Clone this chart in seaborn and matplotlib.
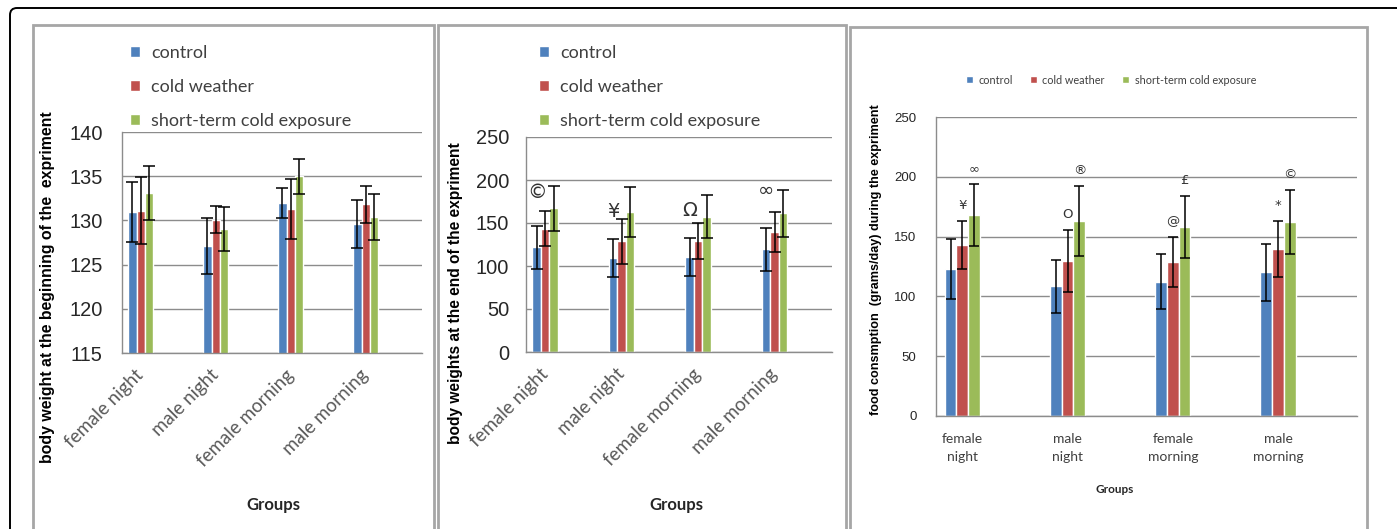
import numpy as np
import pandas as pd
import matplotlib
matplotlib.use("Agg")
import matplotlib.pyplot as plt
import seaborn as sns
from matplotlib.patches import FancyBboxPatch, Rectangle

# %% data
groups = ["female night", "male night", "female morning", "male morning"]
treatments = ["control", "cold weather", "short-term cold exposure"]
colors = ["#4F81BD", "#C0504D", "#9BBB59"]

start_control = [131.0, 127.1, 132.0, 129.6]
start_cold = [131.1, 130.1, 131.3, 131.8]
start_short = [133.1, 129.0, 135.0, 130.4]
start_control_err = [3.4, 3.2, 1.7, 2.7]
start_cold_err = [3.8, 1.5, 3.4, 2.1]
start_short_err = [3.1, 2.5, 2.0, 2.6]

end_control = [121.7, 109.0, 110.9, 119.4]
end_cold = [143.4, 128.7, 128.7, 139.5]
end_short = [166.9, 163.0, 157.3, 161.1]
end_control_err = [25, 22, 22, 25]
end_cold_err = [20, 26, 21, 23.6]
end_short_err = [26, 29, 25, 27]
end_marks = ["©", "¥", "Ω", "∞"]
end_mark_y = [186, 163, 165, 188]

food_control = [122.8, 108.5, 112.4, 120.0]
food_cold = [142.9, 129.5, 128.6, 140.0]
food_short = [168.0, 163.0, 158.2, 162.1]
food_control_err = [25, 22, 23, 24]
food_cold_err = [20, 26, 21, 23.4]
food_short_err = [26, 29, 26, 27]
food_marks_cold = ["¥", "O", "@", "*"]
food_marks_short = ["∞", "®", "£", "©"]

# excel chart had an empty category after each group
order = ["female night", "gap1", "male night", "gap2",
         "female morning", "gap3", "male morning", "gap4"]

sns.set_theme(style="white")
plt.rcParams['font.family'] = ['Lato', 'DejaVu Sans']

W, H = 1397, 529
fig = plt.figure(figsize=(W / 100, H / 100), dpi=100)
fig.patch.set_facecolor("white")

GRID = "#8c8c8c"
ARIAL = ["Liberation Sans", "DejaVu Sans"]


def make_frame(values, errors):
    rows = []
    for t, vals, errs in zip(treatments, values, errors):
        for g, v, e in zip(groups, vals, errs):
            rows.append({"group": g, "treatment": t, "value": v, "err": e})
    return pd.DataFrame(rows)


def draw_bars(ax, df, capsize):
    sns.barplot(data=df, x="group", y="value", hue="treatment", order=order,
                hue_order=treatments, palette=colors, width=0.67, saturation=1,
                errorbar=None, ax=ax, zorder=2)
    # error bars, matched to each drawn bar
    for cont, t in zip(ax.containers, treatments):
        for bar in cont:
            h = bar.get_height()
            if not np.isfinite(h) or h == 0:
                continue
            xc = bar.get_x() + bar.get_width() / 2
            g = order[int(round(xc))]
            e = df[(df.treatment == t) & (df.group == g)]["err"].iloc[0]
            ax.errorbar(xc, h, yerr=e, color="black", lw=1.1, capsize=capsize,
                        capthick=1.1, zorder=3)
    ax.set_xlim(-0.5, 7.5)
    ax.grid(axis="y", color=GRID, lw=1, zorder=0)
    ax.set_axisbelow(True)
    for s in ["top", "right"]:
        ax.spines[s].set_visible(False)
    for s in ["left", "bottom"]:
        ax.spines[s].set_color(GRID)
        ax.spines[s].set_linewidth(1)
    ax.set_facecolor("none")
    ax.set_xticks([0, 2, 4, 6])
    ax.set_xticks(np.arange(-0.5, 8, 1), minor=True)
    ax.tick_params(axis="x", which="major", length=0)
    ax.tick_params(axis="x", which="minor", length=5, color=GRID, width=1)


def bar_centers(ax, t):
    cont = ax.containers[treatments.index(t)]
    out = {}
    for bar in cont:
        xc = bar.get_x() + bar.get_width() / 2
        out[order[int(round(xc))]] = xc
    return [out[g] for g in groups]


def side_legend(ax, x, y):
    handles, labels = ax.get_legend_handles_labels()
    ax.legend(handles, labels, loc="upper left", bbox_to_anchor=(x / W, 1 - y / H),
              bbox_transform=fig.transFigure, frameon=False, fontsize=13,
              handlelength=0.55, handleheight=0.55, handletextpad=0.6,
              labelspacing=1.0, borderpad=0, labelcolor="#404040")


# %% panel 1 - body weight at the beginning
ax1 = fig.add_axes([122 / W, 1 - 353 / H, 300 / W, 221 / H])
df1 = make_frame([start_control, start_cold, start_short],
                 [start_control_err, start_cold_err, start_short_err])
draw_bars(ax1, df1, capsize=4)
ax1.set_ylim(115, 140)
ax1.set_yticks(np.arange(115, 141, 5))
ax1.set_xticklabels(groups, rotation=45, ha="right", va="center",
                    rotation_mode="anchor", fontsize=13.5, color="#595959")
ax1.tick_params(axis="x", which="major", pad=14)
ax1.tick_params(axis="y", length=6, color=GRID, pad=8, labelsize=14.4,
                labelcolor="#262626")
for lab in ax1.get_yticklabels():
    lab.set_family(ARIAL)
ax1.set_ylabel("body weight at the beginning of the  expriment", fontsize=11.4,
               fontweight="bold", family=ARIAL, color="black")
ax1.yaxis.set_label_coords(-0.223, 0.30)
ax1.set_xlabel("Groups", fontsize=12, fontweight="bold", color="#262626")
ax1.xaxis.set_label_coords(0.503, -0.652)
side_legend(ax1, 121, 36)

# %% panel 2 - body weight at the end
ax2 = fig.add_axes([526 / W, 1 - 352 / H, 306 / W, 215 / H])
df2 = make_frame([end_control, end_cold, end_short],
                 [end_control_err, end_cold_err, end_short_err])
draw_bars(ax2, df2, capsize=4)
ax2.set_ylim(0, 250)
ax2.set_yticks(np.arange(0, 251, 50))
ax2.set_xticklabels(groups, rotation=45, ha="right", va="center",
                    rotation_mode="anchor", fontsize=13.5, color="#595959")
ax2.tick_params(axis="x", which="major", pad=14)
ax2.tick_params(axis="y", length=6, color=GRID, pad=6, labelsize=14.4,
                labelcolor="#262626")
for lab in ax2.get_yticklabels():
    lab.set_family(ARIAL)
ax2.set_ylabel("body weights at the end of the expriment", fontsize=11.2,
               fontweight="bold", family=ARIAL, color="black")
ax2.yaxis.set_label_coords(-0.206, 0.274)
ax2.set_xlabel("Groups", fontsize=12, fontweight="bold", color="#262626")
ax2.xaxis.set_label_coords(0.493, -0.674)
side_legend(ax2, 530, 36)
for x, y, m in zip(bar_centers(ax2, "control"), end_mark_y, end_marks):
    ax2.text(x, y, m, ha="center", va="center", fontsize=14, color="#333333",
             family=["DejaVu Sans"], zorder=4)

# %% panel 3 - food consumption
ax3 = fig.add_axes([936 / W, 1 - 416 / H, 421 / W, 299 / H])
df3 = make_frame([food_control, food_cold, food_short],
                 [food_control_err, food_cold_err, food_short_err])
draw_bars(ax3, df3, capsize=3.5)
ax3.set_ylim(0, 250)
ax3.set_yticks(np.arange(0, 251, 50))
ax3.set_xticklabels([g.replace(" ", "\n") for g in groups], fontsize=10,
                    color="#404040", linespacing=1.6)
ax3.tick_params(axis="x", which="major", pad=12)
ax3.tick_params(axis="y", length=4, color=GRID, pad=10, labelsize=9.5,
                labelcolor="#262626")
for lab in ax3.get_yticklabels():
    lab.set_family(ARIAL)
ax3.set_ylabel("food consmption  (grams/day) during the expriment", fontsize=9.1,
               fontweight="bold", family=ARIAL, color="black")
ax3.yaxis.set_label_coords(-0.128, 0.522)
ax3.set_xlabel("Groups", fontsize=8.5, fontweight="bold", color="#262626")
ax3.xaxis.set_label_coords(0.425, -0.226)
h3, l3 = ax3.get_legend_handles_labels()
ax3.legend(h3, l3, loc="center", bbox_to_anchor=(1111 / W, 1 - 80 / H),
           bbox_transform=fig.transFigure, ncol=3, frameon=False, fontsize=7.8,
           handlelength=0.65, handleheight=0.65, handletextpad=0.5,
           columnspacing=1.6, borderpad=0, labelcolor="#404040")
cold_x = bar_centers(ax3, "cold weather")
short_x = bar_centers(ax3, "short-term cold exposure")
for i in range(4):
    ax3.text(cold_x[i], food_cold[i] + food_cold_err[i] + 13, food_marks_cold[i],
             ha="center", va="center", fontsize=9.5, color="#333333",
             family=["DejaVu Sans"], zorder=4)
    ax3.text(short_x[i], food_short[i] + food_short_err[i] + 13, food_marks_short[i],
             ha="center", va="center", fontsize=9.5, color="#333333",
             family=["DejaVu Sans"], zorder=4)

# %% frames around the panels (pixel coordinates)
fig.add_artist(FancyBboxPatch((10, -40), 1500, 521 + 40, boxstyle="round,pad=0,rounding_size=7",
                              transform=None, fill=False, ec="black", lw=1.4))
for x0, x1, top in [(33, 434, 25), (438, 846, 25), (850, 1367, 27)]:
    fig.add_artist(Rectangle((x0, -20), x1 - x0, H - top + 20, transform=None,
                             fill=False, ec="#a6a6a6", lw=2))

fig.savefig("out.png", dpi=100, facecolor="white")
